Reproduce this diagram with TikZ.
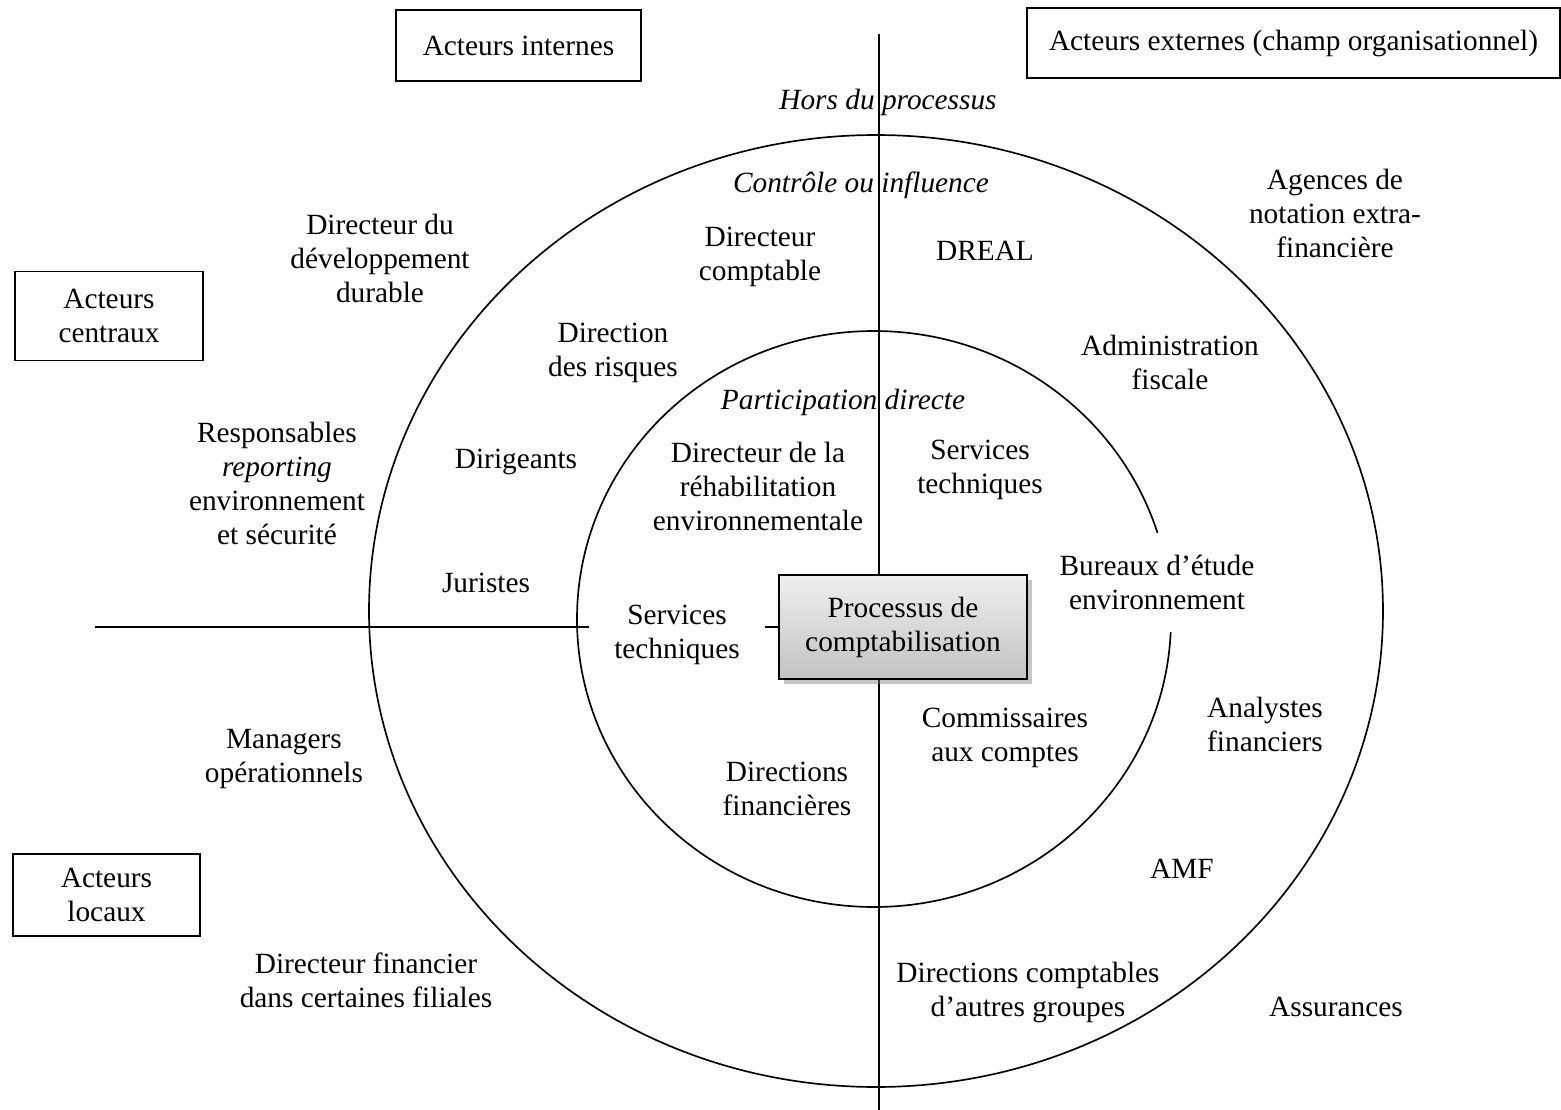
\documentclass[tikz,border=0pt]{standalone}
\usepackage{fontspec}
\setmainfont{Liberation Serif}
\usetikzlibrary{shadows,backgrounds}

\tikzset{
  lbl/.style={align=center, inner sep=0pt, yshift=-0.75pt},
  hlbl/.style={lbl, font=\fontsize{8.8pt}{10.2pt}\selectfont\itshape},
  masked/.style={lbl, fill=white, inner xsep=7.5pt, inner ysep=6.5pt},
  actor/.style={draw, line width=0.5pt, align=center, inner sep=0pt},
  proc/.style={draw, line width=0.6pt, align=center, top color=black!6, bottom color=black!24,
    drop shadow={opacity=0.45, shadow xshift=1.6pt, shadow yshift=-1.6pt},
    minimum width=74.4pt, minimum height=31.2pt, inner sep=0pt},
}

\begin{document}
\begin{tikzpicture}[x=0.3pt, y=-0.3pt, font=\fontsize{8.8pt}{10.2pt}\selectfont]
    \useasboundingbox (0,0) rectangle (1561,1110);
    % boxes of actors
    \node[actor, minimum width=73.5pt, minimum height=21.3pt] (internes) at (518.5,45.5) {Acteurs internes};
    \node[actor, minimum width=159.9pt, minimum height=21pt] (externes) at (1293.5,43) {Acteurs externes (champ organisationnel)};
    \node[actor, minimum width=56.4pt, minimum height=26.7pt] (centraux) at (109,316) {Acteurs\\centraux};
    \node[actor, minimum width=56.1pt, minimum height=24.6pt] (locaux) at (106.5,895) {Acteurs\\locaux};
    % circles titles
    \node[hlbl] (hors) at (888,100) {Hors du processus};
    \node[hlbl] (controle) at (861,183) {Contrôle ou influence};
    \node[hlbl] (particip) at (843,400) {Participation directe};
    % central process
    \node[proc] (proc) at (903,627) {Processus de\\comptabilisation};
    % internal actors
    \node[lbl] (devdur) at (380,256) {Directeur du\\développement\\durable};
    \node[lbl] (dircompt) at (760,254) {Directeur\\comptable};
    \node[lbl] (risques) at (613,350) {Direction\\des risques};
    \node[lbl] (reporting) at (277,481) {Responsables\\\textit{reporting}\\environnement\\et sécurité};
    \node[lbl] (dirigeants) at (516,459) {Dirigeants};
    \node[lbl] (rehab) at (758,484) {Directeur de la\\réhabilitation\\environnementale};
    \node[lbl] (juristes) at (486,580) {Juristes};
    \node[masked] (servint) at (677,632) {Services\\techniques};
    \node[lbl] (managers) at (284,757) {Managers\\opérationnels};
    \node[lbl] (dirfin) at (787,786) {Directions\\financières};
    \node[lbl] (filiales) at (366,978) {Directeur financier\\dans certaines filiales};
    % external actors
    \node[lbl] (dreal) at (985,248) {DREAL};
    \node[lbl] (agences) at (1335,211) {Agences de\\notation extra-\\financière};
    \node[lbl] (fiscale) at (1170,360) {Administration\\fiscale};
    \node[lbl] (servext) at (980,467) {Services\\techniques};
    \node[masked] (bureaux) at (1157,580) {Bureaux d’étude\\environnement};
    \node[lbl] (cac) at (1005,735) {Commissaires\\aux comptes};
    \node[lbl] (analystes) at (1265,722) {Analystes\\financiers};
    \node[lbl] (amf) at (1182,866) {AMF};
    \node[lbl] (autres) at (1028,990) {Directions comptables\\d’autres groupes};
    \node[lbl] (assur) at (1336,1004) {Assurances};

    \begin{scope}[on background layer]
        \draw[line width=0.5pt] (876,611) ellipse [x radius=152.1pt, y radius=142.8pt];
        \draw[line width=0.5pt] (874,619) ellipse [x radius=89.1pt, y radius=86.4pt];
        \coordinate (vtop) at (879,34);
        \coordinate (vbot) at (879,1110);
        \coordinate (hleft) at (95,627);
        \draw[line width=0.6pt] (vtop) -- (vbot);
        \draw[line width=0.6pt] (hleft) -- (proc.west);
    \end{scope}
\end{tikzpicture}
\end{document}
